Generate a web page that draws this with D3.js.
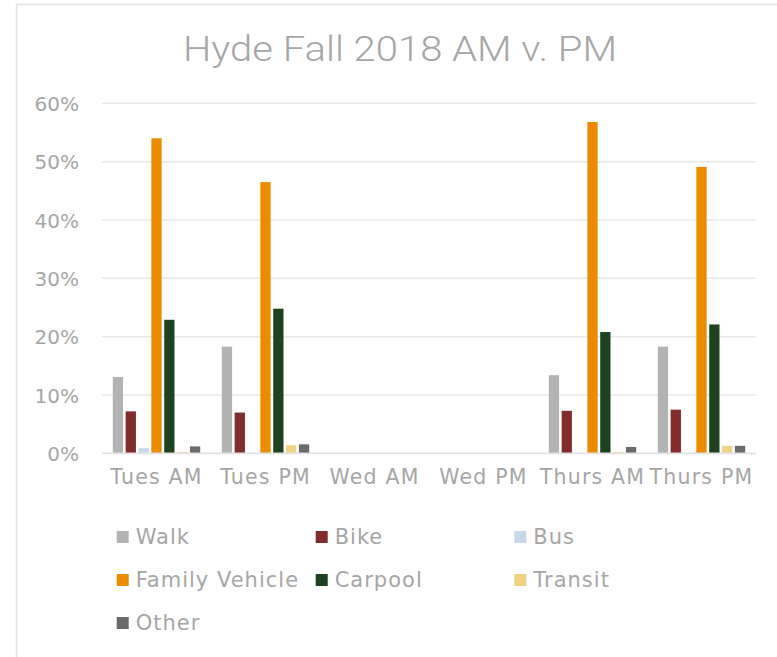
<!DOCTYPE html>
<html>
<head>
<meta charset="utf-8">
<script src="https://cdn.jsdelivr.net/npm/d3@7"></script>
<style>
  html, body { margin: 0; padding: 0; background: #ffffff; }
  svg { display: block; }
</style>
</head>
<body>
<svg id="chart" width="777" height="657"></svg>
<script>
// ---- Data ----
const categories = ["Tues AM", "Tues PM", "Wed AM", "Wed PM", "Thurs AM", "Thurs PM"];
const seriesNames = ["Walk", "Bike", "Bus", "Family Vehicle", "Carpool", "Transit", "Other"];
const walk          = [13.1, 18.3, 0, 0, 13.4, 18.3];
const bike          = [7.2, 7.0, 0, 0, 7.3, 7.5];
const bus           = [0.9, 0, 0, 0, 0, 0];
const familyVehicle = [54.0, 46.5, 0, 0, 56.8, 49.1];
const carpool       = [22.9, 24.8, 0, 0, 20.8, 22.1];
const transit       = [0.25, 1.4, 0, 0, 0.25, 1.3];
const other         = [1.2, 1.55, 0, 0, 1.1, 1.3];
const yTicks = [0, 10, 20, 30, 40, 50, 60];
const colors = ["#b3b3b3", "#832c2c", "#c6d8ea", "#ed8b00", "#1c4220", "#eed384", "#6a6a6a"];
const title = "Hyde Fall 2018 AM v. PM";

const seriesValues = [walk, bike, bus, familyVehicle, carpool, transit, other];

// ---- Layout ----
const svg = d3.select("#chart");
const textColor = "#a6a6a6";
const font = "'DejaVu Sans', sans-serif";

// outer frame (top + left edges visible)
svg.append("line").attr("x1", 16.5).attr("x2", 777).attr("y1", 4.5).attr("y2", 4.5)
  .attr("stroke", "#e3e3e3").attr("stroke-width", 1.5);
svg.append("line").attr("x1", 16.5).attr("x2", 16.5).attr("y1", 4.5).attr("y2", 657)
  .attr("stroke", "#e3e3e3").attr("stroke-width", 1.5);

// title
svg.append("text")
  .attr("x", 400).attr("y", 61)
  .attr("text-anchor", "middle")
  .attr("font-family", "'Liberation Sans Narrow', 'Roboto', sans-serif")
  .attr("font-weight", 300)
  .attr("font-size", 35)
  .attr("fill", textColor)
  .attr("textLength", 434)
  .attr("lengthAdjust", "spacingAndGlyphs")
  .text(title);

const x = d3.scaleBand().domain(categories).range([102, 756]).padding(0);
const groupPad = 10.8;
const xInner = d3.scaleBand().domain(seriesNames)
  .range([0, x.bandwidth() - 2 * groupPad]).paddingInner(0.2).paddingOuter(0);
const y = d3.scaleLinear().domain([0, 60]).range([453.4, 103.3]);

// gridlines
svg.append("g").selectAll("line").data(yTicks.filter(d => d > 0)).join("line")
  .attr("x1", 102).attr("x2", 756)
  .attr("y1", d => y(d)).attr("y2", d => y(d))
  .attr("stroke", "#e8e8e8").attr("stroke-width", 1.5);

// y axis labels
const yAxis = d3.axisLeft(y).tickValues(yTicks).tickFormat(d => d + "%").tickSize(0).tickPadding(0);
const gy = svg.append("g").attr("transform", "translate(79,0)").call(yAxis);
gy.select(".domain").remove();
gy.selectAll("text").attr("font-family", font).attr("font-size", 20)
  .attr("fill", textColor).attr("dy", "0.35em");

// bars
const groups = svg.append("g").selectAll("g").data(categories).join("g")
  .attr("transform", c => `translate(${x(c) + groupPad},0)`);
groups.selectAll("rect")
  .data((c, ci) => seriesNames.map((s, si) => ({ s, si, v: seriesValues[si][ci] })))
  .join("rect")
  .attr("x", d => xInner(d.s))
  .attr("width", xInner.bandwidth())
  .attr("y", d => y(d.v))
  .attr("height", d => y(0) - y(d.v))
  .attr("fill", d => colors[d.si]);

// baseline
svg.append("line").attr("x1", 102).attr("x2", 756).attr("y1", y(0)).attr("y2", y(0))
  .attr("stroke", "#e2e2e2").attr("stroke-width", 1.8);

// x axis labels
const xAxis = d3.axisBottom(x).tickSize(0).tickPadding(0);
const gx = svg.append("g").attr("transform", `translate(0,${y(0) + 23})`).call(xAxis);
gx.select(".domain").remove();
gx.selectAll("text").attr("font-family", font).attr("font-size", 20.5)
  .attr("letter-spacing", 1.2)
  .attr("fill", textColor).attr("dy", "0.35em");

// legend
const legendCols = [116.7, 315.7, 514.3];
const legendRows = [537, 580, 623];
const lg = svg.append("g").selectAll("g").data(seriesNames).join("g")
  .attr("transform", (s, i) => `translate(${legendCols[i % 3]},${legendRows[Math.floor(i / 3)]})`);
lg.append("rect").attr("x", 0).attr("y", -6).attr("width", 12).attr("height", 12)
  .attr("fill", (s, i) => colors[i]);
lg.append("text").attr("x", 19).attr("y", 0).attr("dy", "0.35em")
  .attr("font-family", font).attr("font-size", 21).attr("letter-spacing", 1)
  .attr("fill", textColor)
  .text(s => s);
</script>
</body>
</html>
